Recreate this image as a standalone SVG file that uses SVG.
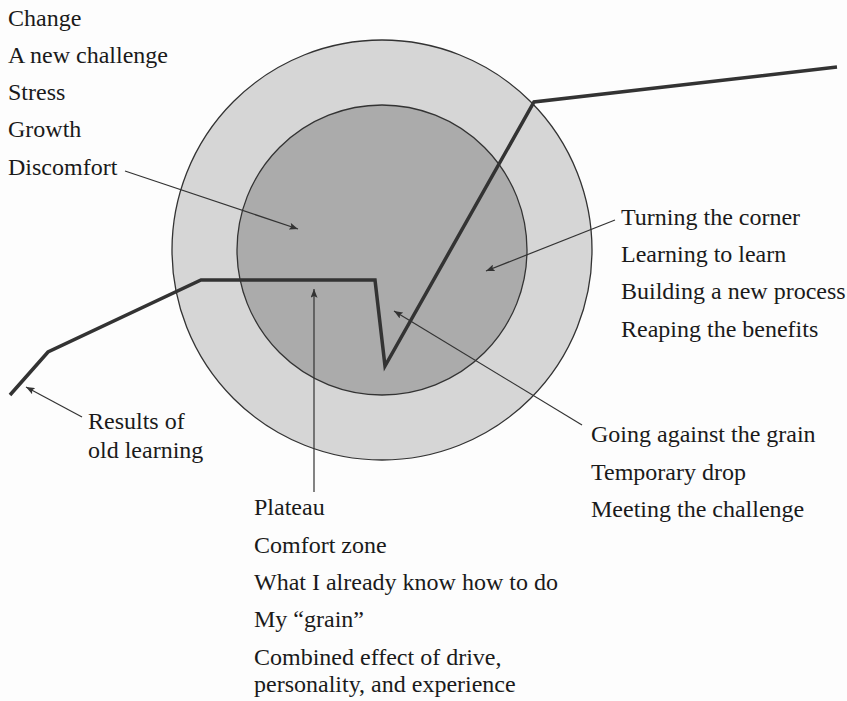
<svg xmlns="http://www.w3.org/2000/svg" width="847" height="701" viewBox="0 0 847 701">
<defs>
<marker id="ah" viewBox="0 0 10 8" refX="10" refY="4" markerWidth="9" markerHeight="7" markerUnits="userSpaceOnUse" orient="auto">
<path d="M0,0 L10,4 L0,8 L2,4 Z" fill="#333"/>
</marker>
</defs>
<style>
.lead{stroke:#333;stroke-width:1.2;fill:none;marker-end:url(#ah)}
.curve{stroke:#333;stroke-width:3.5;fill:none;stroke-linejoin:miter}
</style>
<rect width="847" height="701" fill="#fdfdfd"/>
<g id="outer-zone"><circle cx="382" cy="250" r="210" fill="#d6d6d6" stroke="#333" stroke-width="1.3"/></g>
<g id="inner-zone"><circle cx="382" cy="250" r="145" fill="#ababab" stroke="#333" stroke-width="1.3"/></g>
<g id="connectors">
<polyline class="curve" points="10,395 48,352 201,280 375,280 385,366 534,102 837,67"/>
<line class="lead" x1="125" y1="171" x2="298" y2="229"/>
<line class="lead" x1="82" y1="417" x2="26" y2="387"/>
<line class="lead" x1="314" y1="492" x2="314" y2="289"/>
<line class="lead" x1="582" y1="425" x2="394" y2="311"/>
<line class="lead" x1="615" y1="220" x2="486" y2="271"/>
</g>
<g font-family="Liberation Serif, DejaVu Serif, serif" font-size="24" fill="#1a1a1a">
<g id="label-change">
<text x="8" y="26">Change</text>
<text x="8" y="63">A new challenge</text>
<text x="8" y="100">Stress</text>
<text x="8" y="137">Growth</text>
<text x="8" y="175">Discomfort</text>
</g>
<g id="label-corner">
<text x="621" y="225">Turning the corner</text>
<text x="621" y="262">Learning to learn</text>
<text x="621" y="299">Building a new process</text>
<text x="621" y="337">Reaping the benefits</text>
</g>
<g id="label-grain">
<text x="591" y="442">Going against the grain</text>
<text x="591" y="480">Temporary drop</text>
<text x="591" y="517">Meeting the challenge</text>
</g>
<g id="label-results">
<text x="88" y="429">Results of</text>
<text x="88" y="458">old learning</text>
</g>
<g id="label-plateau">
<text x="254" y="515">Plateau</text>
<text x="254" y="553">Comfort zone</text>
<text x="254" y="590">What I already know how to do</text>
<text x="254" y="627">My “grain”</text>
<text x="254" y="665">Combined effect of drive,</text>
<text x="254" y="692">personality, and experience</text>
</g>
</g>
</svg>
